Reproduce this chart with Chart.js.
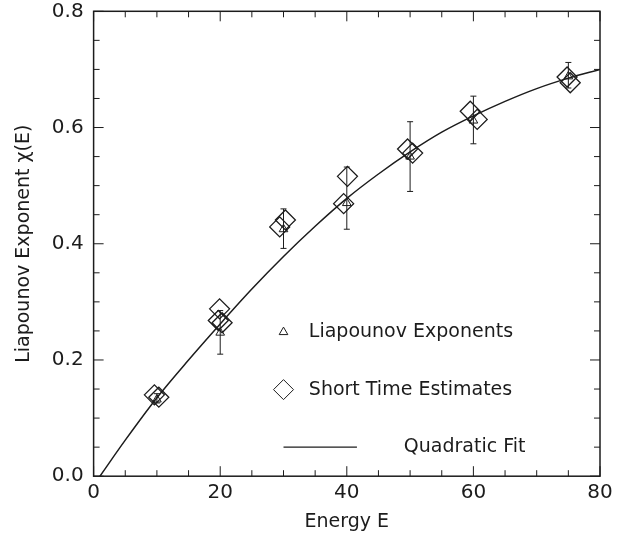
<!DOCTYPE html>
<html>
<head>
<meta charset="utf-8">
<script src="https://cdn.jsdelivr.net/npm/chart.js@4.4.1/dist/chart.umd.min.js"></script>
<style>
  html, body { margin: 0; padding: 0; background: #fff; }
  #wrap { width: 620px; height: 539px; }
</style>
</head>
<body>
<div id="wrap"><canvas id="chart"></canvas></div>
<script>
// quadratic fit curve
const fitE = [1, 5, 10, 15, 20, 25, 30, 35, 40, 45, 50, 55, 60, 65, 70, 75, 80];
const fitV = [0, 0.062, 0.135, 0.200, 0.262, 0.322, 0.378, 0.430, 0.478, 0.520, 0.558, 0.592, 0.620, 0.645, 0.667, 0.685, 0.700];

// Liapounov exponents (triangles) with error bars
const lyapE = [10, 20, 30, 40, 50, 60, 75];
const lyapV = [0.132, 0.247, 0.425, 0.470, 0.550, 0.612, 0.688];
const errLow = [0.126, 0.210, 0.392, 0.425, 0.490, 0.572, 0.668];
const errHigh = [0.142, 0.285, 0.460, 0.532, 0.610, 0.654, 0.712];

// short time estimates (diamonds)
const shortE = [9.6, 10.3, 19.9, 19.7, 20.3, 29.4, 30.3, 39.5, 40.1, 49.6, 50.4, 59.5, 60.6, 74.8, 75.3];
const shortV = [0.140, 0.136, 0.288, 0.268, 0.264, 0.429, 0.441, 0.469, 0.516, 0.563, 0.556, 0.628, 0.614, 0.687, 0.677];

const xTicks = [0, 20, 40, 60, 80];
const yTicks = [0.0, 0.2, 0.4, 0.6, 0.8];
const legendLabels = ['Liapounov Exponents', 'Short Time Estimates', 'Quadratic Fit'];

const INK = '#1c1c1c';
const FONT = "'DejaVu Sans', sans-serif";

const zip = (xs, ys) => xs.map((v, i) => ({ x: v, y: ys[i] }));

// box frame with inward ticks on all four sides
const frameTicks = {
    id: 'frameTicks',
    afterDatasetsDraw(chart) {
        const { ctx, chartArea: a, scales: { x, y } } = chart;
        ctx.save();
        ctx.strokeStyle = INK;
        ctx.lineWidth = 1.5;
        ctx.strokeRect(a.left, a.top, a.right - a.left, a.bottom - a.top);
        ctx.lineWidth = 1;
        ctx.beginPath();
        for (let i = 0; i <= 16; i++) {
            const px = x.getPixelForValue(i * 5);
            const len = i % 4 === 0 ? 10 : 6;
            ctx.moveTo(px, a.bottom); ctx.lineTo(px, a.bottom - len);
            ctx.moveTo(px, a.top); ctx.lineTo(px, a.top + len);
        }
        for (let i = 0; i <= 16; i++) {
            const py = y.getPixelForValue(i * 0.05);
            const len = i % 4 === 0 ? 10 : 6;
            ctx.moveTo(a.left, py); ctx.lineTo(a.left + len, py);
            ctx.moveTo(a.right, py); ctx.lineTo(a.right - len, py);
        }
        ctx.stroke();
        ctx.restore();
    }
};

const errorBars = {
    id: 'errorBars',
    afterDatasetsDraw(chart) {
        const { ctx, scales: { x, y } } = chart;
        ctx.save();
        ctx.strokeStyle = INK;
        ctx.lineWidth = 1;
        ctx.beginPath();
        lyapE.forEach((e, i) => {
            const px = x.getPixelForValue(e);
            const lo = y.getPixelForValue(errLow[i]);
            const hi = y.getPixelForValue(errHigh[i]);
            ctx.moveTo(px, lo); ctx.lineTo(px, hi);
            ctx.moveTo(px - 3, lo); ctx.lineTo(px + 3, lo);
            ctx.moveTo(px - 3, hi); ctx.lineTo(px + 3, hi);
        });
        ctx.stroke();
        ctx.restore();
    }
};

const plotLegend = {
    id: 'plotLegend',
    afterDatasetsDraw(chart) {
        const { ctx, scales: { x, y } } = chart;
        ctx.save();
        ctx.strokeStyle = INK;
        ctx.lineWidth = 1;
        const mx = x.getPixelForValue(30);
        const rows = [0.248, 0.149, 0.05].map(v => y.getPixelForValue(v));
        ctx.fillStyle = 'rgba(0,0,0,0)';
        Chart.helpers.drawPoint(ctx, { pointStyle: 'triangle', radius: 5, borderWidth: 1 }, mx, rows[0]);
        Chart.helpers.drawPoint(ctx, { pointStyle: 'rectRot', radius: 10, borderWidth: 1.3 }, mx, rows[1]);
        ctx.lineWidth = 1.2;
        ctx.beginPath();
        ctx.moveTo(mx, rows[2]);
        ctx.lineTo(x.getPixelForValue(41.6), rows[2]);
        ctx.stroke();
        ctx.fillStyle = INK;
        ctx.font = '19px ' + FONT;
        ctx.textBaseline = 'middle';
        ctx.fillText(legendLabels[0], x.getPixelForValue(34), rows[0]);
        ctx.fillText(legendLabels[1], x.getPixelForValue(34), rows[1]);
        ctx.fillText(legendLabels[2], x.getPixelForValue(49), rows[2]);
        ctx.restore();
    }
};

new Chart(document.getElementById('chart'), {
    type: 'scatter',
    data: {
        datasets: [
            {
                label: legendLabels[2],
                data: zip(fitE, fitV),
                showLine: true,
                borderColor: INK,
                borderWidth: 1.5,
                pointRadius: 0,
                cubicInterpolationMode: 'monotone'
            },
            {
                label: legendLabels[1],
                data: zip(shortE, shortV),
                pointStyle: 'rectRot',
                pointRadius: 10,
                pointBorderWidth: 1.3,
                borderColor: INK,
                backgroundColor: 'rgba(0,0,0,0)'
            },
            {
                label: legendLabels[0],
                data: zip(lyapE, lyapV),
                pointStyle: 'triangle',
                pointRadius: 5,
                pointBorderWidth: 1,
                borderColor: INK,
                backgroundColor: 'rgba(0,0,0,0)'
            }
        ]
    },
    options: {
        responsive: true,
        maintainAspectRatio: false,
        animation: false,
        layout: { padding: { top: 2, right: 20, bottom: 6, left: 9 } },
        plugins: {
            legend: { display: false },
            tooltip: { enabled: false }
        },
        scales: {
            x: {
                type: 'linear', min: 0, max: 80,
                afterBuildTicks: s => { s.ticks = xTicks.map(v => ({ value: v })); },
                grid: { display: false, drawTicks: false },
                border: { display: false },
                ticks: { color: INK, font: { family: FONT, size: 20 }, padding: 5, maxRotation: 0 },
                title: { display: true, text: 'Energy E', color: INK, font: { family: FONT, size: 19 }, padding: { top: 0, bottom: 0 } }
            },
            y: {
                type: 'linear', min: 0, max: 0.8,
                afterBuildTicks: s => { s.ticks = yTicks.map(v => ({ value: v })); },
                afterFit: s => { s.paddingTop = 0; s.paddingBottom = 0; },
                grid: { display: false, drawTicks: false },
                border: { display: false },
                ticks: { color: INK, font: { family: FONT, size: 20 }, padding: 10, callback: v => v.toFixed(1) },
                title: { display: true, text: 'Liapounov Exponent χ(E)', color: INK, font: { family: FONT, size: 19 }, padding: { bottom: 6 } }
            }
        }
    },
    plugins: [frameTicks, errorBars, plotLegend]
});
</script>
</body>
</html>
